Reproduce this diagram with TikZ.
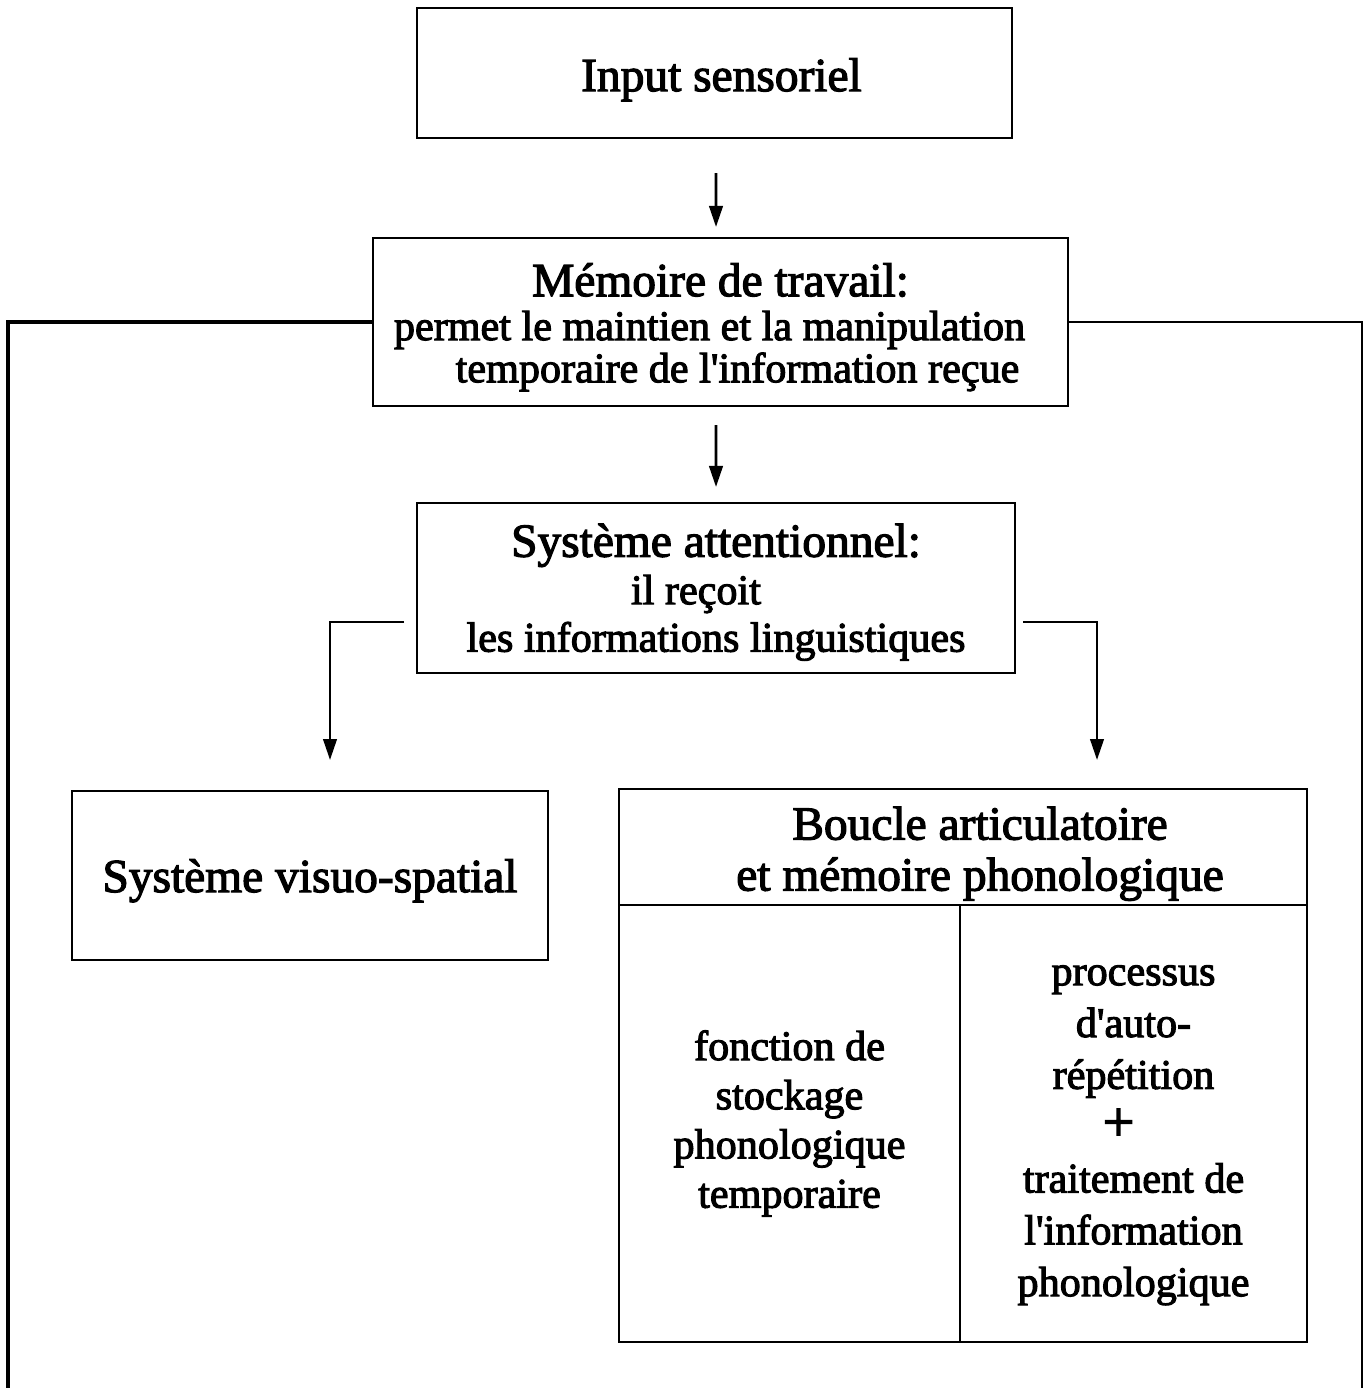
\documentclass[tikz,border=0pt]{standalone}
\usepackage{fontspec}
\setmainfont{Liberation Serif}[FakeBold=2.5]
\usetikzlibrary{arrows.meta,positioning}
\newcommand{\titf}{\fontsize{27}{30}\selectfont}
\newcommand{\apo}{\textquotesingle}
\newcommand{\toph}[1]{\rule{0pt}{#1}}
\tikzset{
  box/.style={draw,rectangle,line width=1.2pt,align=center,inner sep=0pt,font=\fontsize{24}{27}\selectfont},
  arr/.style={-{Triangle[length=0.42cm,width=0.27cm]},line width=1.5pt},
  frame/.style={line width=1.6pt}
}
\begin{document}
\begin{tikzpicture}[x=0.02cm,y=-0.02cm]
  \useasboundingbox (0,0) rectangle (1365,1388);
  % Top boxes
  \node[box,minimum width=11.9cm,minimum height=2.6cm] (inp) at (714.5,73)
    {\titf\toph{26.4pt}\hspace*{0.28cm}Input sensoriel};
  \node[box,minimum width=13.9cm,minimum height=3.36cm] (mem) at (720.5,322)
    {{\titf\toph{24.7pt}Mémoire de travail:}\\[-2pt]
     permet le maintien et la manipulation\hspace*{0.44cm}\mbox{}\\[-3pt]
     \hspace*{0.68cm}temporaire de l\apo information reçue};
  \node[box,minimum width=11.96cm,minimum height=3.4cm] (att) at (716,588)
    {{\titf\toph{23.6pt}Système attentionnel:}\\
     il reçoit\hspace*{0.8cm}\mbox{}\\
     les informations linguistiques};

  % Lower boxes
  \node[box,minimum width=9.52cm,minimum height=3.38cm] (vis) at (310,875.5)
    {\titf\toph{24.7pt}Système visuo-spatial};
  \node[box,minimum width=13.76cm,minimum height=2.32cm,font=\titf] (bcl) at (963,847)
    {\toph{26.4pt}\hspace*{0.68cm}Boucle articulatoire\\[-1pt]
     \hspace*{0.68cm}et mémoire phonologique};
  \node[box,minimum width=6.82cm,minimum height=8.74cm,font=\fontsize{24}{28}\selectfont] (stk) at (789.5,1123.5)
    {fonction de\\ stockage\\ phonologique\\ temporaire};
  \node[box,minimum width=6.94cm,minimum height=8.74cm,font=\fontsize{24}{29.5}\selectfont] (rep) at (1133.5,1123.5)
    {\toph{24.7pt}processus\\ d\apo auto-\\ répétition\\
     {\fontsize{32}{29.5}\selectfont +}\hspace*{0.6cm}\mbox{}\\
     traitement de\\ l\apo information\\ phonologique};

  % Connections
  \coordinate (lend) at (330,760);
  \coordinate (rend) at (1097,760);
  \coordinate (lbot) at (8,1388);
  \coordinate (rbot) at (1362,1388);
  \draw[arr,shorten <=0.68cm,shorten >=0.2cm] ([xshift=0.03cm]inp.south) -- ([xshift=-0.09cm]mem.north);
  \draw[arr,shorten <=0.36cm,shorten >=0.3cm] ([xshift=-0.09cm]mem.south) -- (att.north);
  \draw[arr,shorten <=0.24cm] ([yshift=-0.68cm]att.west) -| (lend);
  \draw[arr,shorten <=0.14cm] ([yshift=-0.68cm]att.east) -| (rend);

  % Outer frame
  \draw[frame,line width=1.8pt] (mem.west) -| (lbot);
  \draw[frame,line width=1.4pt] (mem.east) -| (rbot);
\end{tikzpicture}
\end{document}
